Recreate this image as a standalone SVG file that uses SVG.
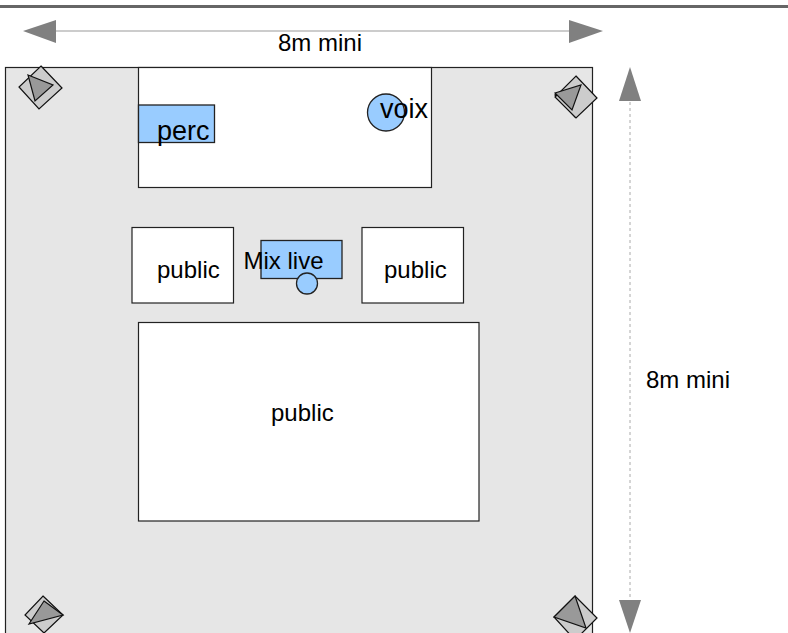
<svg xmlns="http://www.w3.org/2000/svg" width="788" height="633" viewBox="0 0 788 633">
<style>
text{font-family:"Liberation Sans",Arial,sans-serif;font-size:24px;fill:#000}
.big{font-size:27px}
.box{fill:#fff;stroke:#222;stroke-width:1.2}
.blue{fill:#99ccff;stroke:#222;stroke-width:1.3}
.sq{fill:#cccccc;stroke:#111;stroke-width:1.2}
.tri{fill:#999999;stroke:#111;stroke-width:1.2}
.head{fill:#808080}
</style>
<rect width="788" height="633" fill="#fff"/>
<rect x="0" y="5" width="788" height="3" fill="#666"/>
<g id="room"><rect x="5.500" y="67.500" width="587" height="580" fill="#e6e6e6" stroke="#222" stroke-width="1.200"/></g>
<g id="connectors">
<line x1="56" y1="31" x2="570" y2="31" stroke="#999" stroke-width="1"/>
<polygon class="head" points="23,31 56,20 56,43"/>
<polygon class="head" points="603,31 569,20 569,43"/>
<line x1="630" y1="102" x2="630" y2="601" stroke="#aaa" stroke-width="1" stroke-dasharray="3 3"/>
<polygon class="head" points="630,67 619,101 641,101"/>
<polygon class="head" points="630,633 619,600 641,600"/>
</g>
<g id="dim-top"><text x="278" y="51">8m mini</text></g>
<g id="dim-right"><text x="646" y="388">8m mini</text></g>
<g id="stage"><rect class="box" x="138.500" y="67.500" width="293" height="120"/></g>
<g id="perc"><rect class="blue" x="138.500" y="105" width="76" height="37.500"/><text class="big" x="157" y="140">perc</text></g>
<g id="voix"><circle class="blue" cx="386" cy="112.500" r="18.500"/><text class="big" x="380" y="118">voix</text></g>
<g id="public-left"><rect class="box" x="132" y="227.500" width="101.500" height="75.500"/><text x="157" y="278">public</text></g>
<g id="public-right"><rect class="box" x="362" y="227.500" width="101.500" height="75.500"/><text x="384" y="278">public</text></g>
<g id="public-main"><rect class="box" x="138.500" y="322.500" width="340.500" height="198.500"/><text x="271" y="421">public</text></g>
<g id="mix"><rect class="blue" x="261" y="240.500" width="81" height="38"/><circle class="blue" cx="307" cy="283.500" r="10.500"/><text x="243.500" y="269">Mix live</text></g>
<g id="speaker-tl"><polygon class="sq" points="41,66 62,88 39,109 19,87"/><polygon class="tri" points="28,75 53,85 35,101"/></g>
<g id="speaker-tr"><polygon class="sq" points="555,95 575,117 578,115 557,94"/><polygon class="sq" points="576,76 597,98 576,118 555,97"/><polygon class="tri" points="555,93 581,85 572,110"/></g>
<g id="speaker-bl"><polygon class="sq" points="43,596 63,615 44,633 25,615"/><polygon class="tri" points="44,601 63,615 29,624"/></g>
<g id="speaker-br"><polygon class="sq" points="575,596 597,618 575,640 554,617"/><polygon class="tri" points="575,596 586,628 554,617"/></g>
</svg>
